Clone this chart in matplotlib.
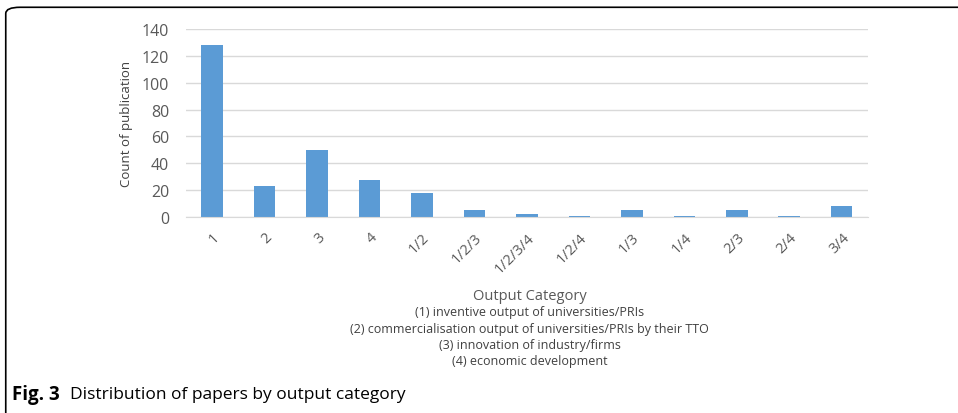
import matplotlib
matplotlib.use('Agg')
from matplotlib import pyplot as plt
from matplotlib.patches import FancyBboxPatch

categories = ['1', '2', '3', '4', '1/2', '1/2/3', '1/2/3/4', '1/2/4', '1/3', '1/4', '2/3', '2/4', '3/4']
counts = [128, 23, 50, 28, 18, 5, 2, 1, 5, 1, 5, 1, 8]
yticks = [0, 20, 40, 60, 80, 100, 120, 140]
legend_lines = ['Output Category',
                '(1) inventive output of universities/PRIs',
                '(2) commercialisation output of universities/PRIs by their TTO',
                '(3) innovation of industry/firms',
                '(4) economic development']

plt.rcParams['font.family'] = ['Open Sans', 'DejaVu Sans']
grey = '#595959'

fig = plt.figure(figsize=(9.58, 4.14), dpi=100)

# rounded frame round the figure
frame = FancyBboxPatch((0.006, -0.05), 1.05, 1.03, boxstyle='round,pad=0,rounding_size=0.015',
                       transform=fig.transFigure, fill=False, edgecolor='black', linewidth=1.2)
fig.patches.append(frame)

ax = fig.add_axes([0.194, 0.473, 0.712, 0.455])
x = range(len(categories))
ax.bar(x, counts, width=0.41, color='#5b9bd5')
ax.set_xlim(-0.5, len(categories) - 0.5)
ax.set_ylim(0, 140)
ax.set_yticks(yticks)
ax.set_xticks(list(x))
ax.set_xticklabels(categories, rotation=45, ha='right', rotation_mode='anchor', fontsize=10.5, color=grey)
ax.tick_params(axis='y', labelsize=11.5, colors=grey, length=0, pad=12)
ax.tick_params(axis='x', length=0, pad=9)
ax.yaxis.grid(True, color='#d9d9d9', linewidth=1)
ax.set_axisbelow(True)
for s in ['top', 'right', 'left']:
    ax.spines[s].set_visible(False)
ax.spines['bottom'].set_color('#d9d9d9')
ax.set_ylabel('Count of publication', fontsize=9.5, color='#404040', labelpad=6)

ys = [0.285, 0.244, 0.205, 0.166, 0.126]
for i, line in enumerate(legend_lines):
    fig.text(0.553, ys[i], line, ha='center', va='center',
             fontsize=10.5 if i == 0 else 9, color=grey if i == 0 else '#404040')

fig.text(0.013, 0.045, 'Fig. 3', fontsize=13.5, fontweight='bold', va='center')
fig.text(0.073, 0.045, 'Distribution of papers by output category', fontsize=12.5, va='center')

fig.savefig('out.png', dpi=100)
